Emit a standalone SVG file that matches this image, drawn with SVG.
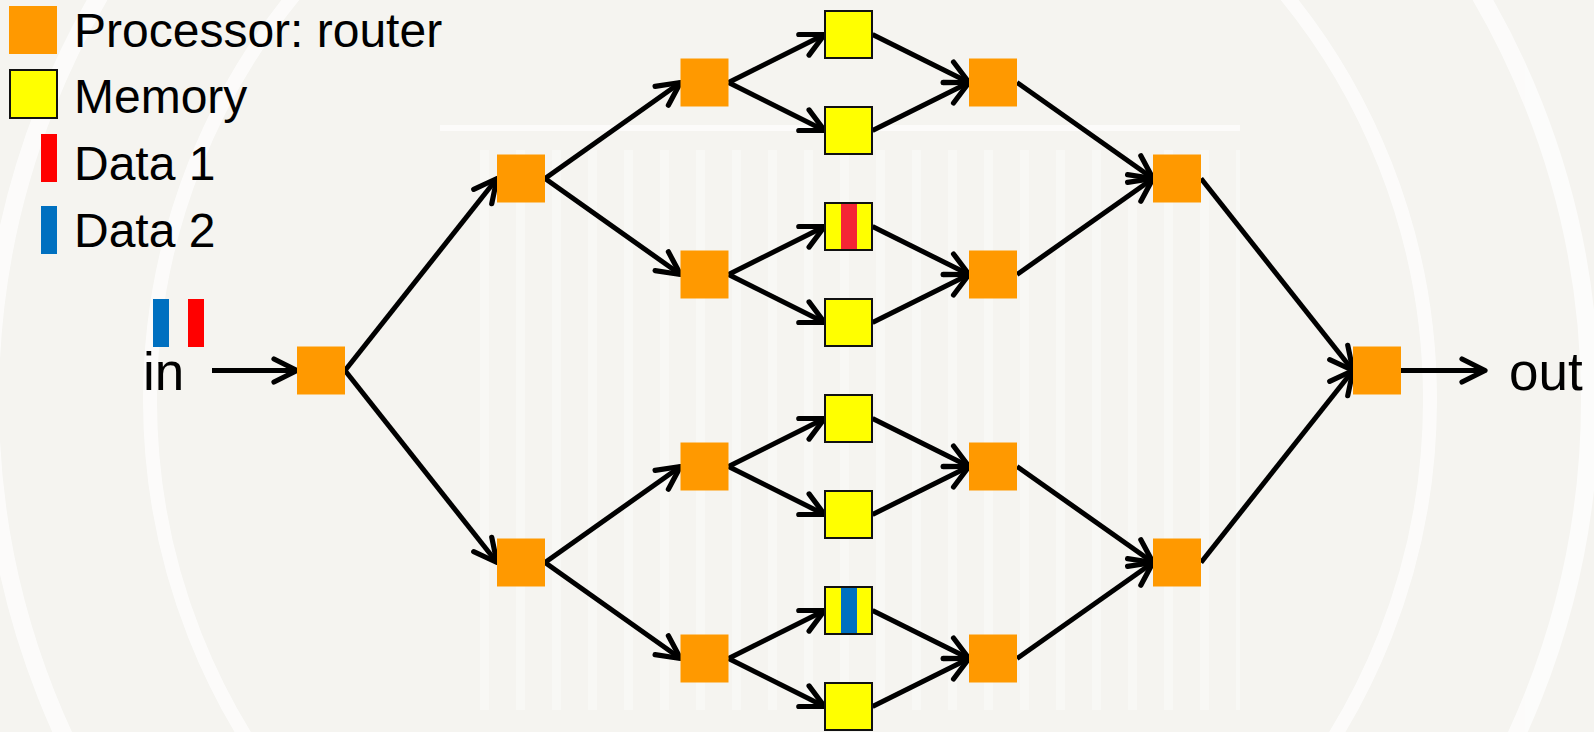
<svg xmlns="http://www.w3.org/2000/svg" width="1594" height="732" viewBox="0 0 1594 732">
  <defs>
    <style>
      .router { fill: #ff9900; }
      .memory { fill: #ffff00; stroke: #111111; stroke-width: 2; }
      .d1 { fill: #ff0000; }
      .d1m { fill: #f42535; }
      .d2 { fill: #0070c0; }
      .wire { stroke: #000000; stroke-width: 5; fill: none; marker-end: url(#arrow); }
      .label { font-family: "Liberation Sans", Arial, sans-serif; fill: #000000; }
      .seal { fill: none; stroke: #ffffff; }
    </style>
    <marker id="arrow" markerUnits="userSpaceOnUse" markerWidth="40" markerHeight="40" refX="0" refY="0" viewBox="-30 -20 40 40" orient="auto" overflow="visible">
      <path d="M -23,-11.5 L 0,0 L -23,11.5" fill="none" stroke="#000000" stroke-width="5.2" stroke-linecap="round" stroke-linejoin="round"/>
    </marker>
    <pattern id="columns" x="480" y="0" width="36" height="10" patternUnits="userSpaceOnUse">
      <rect x="0" y="0" width="9" height="10" fill="#ffffff"/>
    </pattern>
  </defs>

  <!-- page background with faint seal -->
  <rect x="0" y="0" width="1594" height="732" fill="#f5f4f0"/>
  <g id="seal" opacity="0.7">
    <rect x="480" y="150" width="760" height="560" fill="url(#columns)" opacity="0.5"/>
    <circle class="seal" cx="790" cy="400" r="800" stroke-width="18"/>
    <circle class="seal" cx="790" cy="400" r="640" stroke-width="14"/>
    <line class="seal" x1="440" y1="128" x2="1240" y2="128" stroke-width="6"/>
  </g>

  <!-- legend -->
  <g id="legend">
    <rect class="router" x="9" y="6" width="48" height="48"/>
    <text class="label" x="74" y="47" font-size="48">Processor: router</text>
    <rect class="memory" x="10" y="70" width="47" height="48"/>
    <text class="label" x="74" y="113" font-size="48">Memory</text>
    <rect class="d1" x="41" y="134" width="16" height="48"/>
    <text class="label" x="74" y="180" font-size="48">Data 1</text>
    <rect class="d2" x="41" y="206" width="16" height="48"/>
    <text class="label" x="74" y="247" font-size="48">Data 2</text>
  </g>

  <!-- input data packets and terminals -->
  <g id="input">
    <rect class="d2" x="153" y="299" width="16" height="48"/>
    <rect class="d1" x="188" y="299" width="16" height="48"/>
    <text class="label" x="143" y="390" font-size="53">in</text>
  </g>
  <g id="output">
    <text class="label" x="1509" y="390" font-size="53">out</text>
  </g>

  <!-- connectors -->
  <g id="connectors">
    <line class="wire" x1="212" y1="370.5" x2="297" y2="370.5"/>
    <line class="wire" x1="345" y1="370.5" x2="497" y2="178.5"/>
    <line class="wire" x1="345" y1="370.5" x2="497" y2="562.5"/>

    <line class="wire" x1="545" y1="178.5" x2="680.5" y2="82.5"/>
    <line class="wire" x1="545" y1="178.5" x2="680.5" y2="274.5"/>
    <line class="wire" x1="545" y1="562.5" x2="680.5" y2="466.5"/>
    <line class="wire" x1="545" y1="562.5" x2="680.5" y2="658.5"/>

    <line class="wire" x1="728.5" y1="82.5" x2="824.5" y2="34.5"/>
    <line class="wire" x1="728.5" y1="82.5" x2="824.5" y2="130.5"/>
    <line class="wire" x1="728.5" y1="274.5" x2="824.5" y2="226.5"/>
    <line class="wire" x1="728.5" y1="274.5" x2="824.5" y2="322.5"/>
    <line class="wire" x1="728.5" y1="466.5" x2="824.5" y2="418.5"/>
    <line class="wire" x1="728.5" y1="466.5" x2="824.5" y2="514.5"/>
    <line class="wire" x1="728.5" y1="658.5" x2="824.5" y2="610.5"/>
    <line class="wire" x1="728.5" y1="658.5" x2="824.5" y2="706.5"/>

    <line class="wire" x1="872.5" y1="34.5" x2="969" y2="82.5"/>
    <line class="wire" x1="872.5" y1="130.5" x2="969" y2="82.5"/>
    <line class="wire" x1="872.5" y1="226.5" x2="969" y2="274.5"/>
    <line class="wire" x1="872.5" y1="322.5" x2="969" y2="274.5"/>
    <line class="wire" x1="872.5" y1="418.5" x2="969" y2="466.5"/>
    <line class="wire" x1="872.5" y1="514.5" x2="969" y2="466.5"/>
    <line class="wire" x1="872.5" y1="610.5" x2="969" y2="658.5"/>
    <line class="wire" x1="872.5" y1="706.5" x2="969" y2="658.5"/>

    <line class="wire" x1="1017" y1="82.5" x2="1153" y2="178.5"/>
    <line class="wire" x1="1017" y1="274.5" x2="1153" y2="178.5"/>
    <line class="wire" x1="1017" y1="466.5" x2="1153" y2="562.5"/>
    <line class="wire" x1="1017" y1="658.5" x2="1153" y2="562.5"/>

    <line class="wire" x1="1201" y1="178.5" x2="1353" y2="370.5"/>
    <line class="wire" x1="1201" y1="562.5" x2="1353" y2="370.5"/>

    <line class="wire" x1="1401" y1="370.5" x2="1485" y2="370.5"/>
  </g>

  <!-- routers -->
  <g id="r0"><rect class="router" x="297" y="346.5" width="48" height="48"/></g>
  <g id="r1a"><rect class="router" x="497" y="154.5" width="48" height="48"/></g>
  <g id="r1b"><rect class="router" x="497" y="538.5" width="48" height="48"/></g>
  <g id="r2a"><rect class="router" x="680.5" y="58.5" width="48" height="48"/></g>
  <g id="r2b"><rect class="router" x="680.5" y="250.5" width="48" height="48"/></g>
  <g id="r2c"><rect class="router" x="680.5" y="442.5" width="48" height="48"/></g>
  <g id="r2d"><rect class="router" x="680.5" y="634.5" width="48" height="48"/></g>
  <g id="r3a"><rect class="router" x="969" y="58.5" width="48" height="48"/></g>
  <g id="r3b"><rect class="router" x="969" y="250.5" width="48" height="48"/></g>
  <g id="r3c"><rect class="router" x="969" y="442.5" width="48" height="48"/></g>
  <g id="r3d"><rect class="router" x="969" y="634.5" width="48" height="48"/></g>
  <g id="r4a"><rect class="router" x="1153" y="154.5" width="48" height="48"/></g>
  <g id="r4b"><rect class="router" x="1153" y="538.5" width="48" height="48"/></g>
  <g id="r5"><rect class="router" x="1353" y="346.5" width="48" height="48"/></g>

  <!-- memories -->
  <g id="m1"><rect class="memory" x="825" y="11" width="47" height="47"/></g>
  <g id="m2"><rect class="memory" x="825" y="107" width="47" height="47"/></g>
  <g id="m3">
    <rect class="memory" x="825" y="203" width="47" height="47"/>
    <rect class="d1m" x="841" y="204" width="16" height="45"/>
  </g>
  <g id="m4"><rect class="memory" x="825" y="299" width="47" height="47"/></g>
  <g id="m5"><rect class="memory" x="825" y="395" width="47" height="47"/></g>
  <g id="m6"><rect class="memory" x="825" y="491" width="47" height="47"/></g>
  <g id="m7">
    <rect class="memory" x="825" y="587" width="47" height="47"/>
    <rect class="d2" x="841" y="588" width="16" height="45"/>
  </g>
  <g id="m8"><rect class="memory" x="825" y="683" width="47" height="47"/></g>
</svg>
